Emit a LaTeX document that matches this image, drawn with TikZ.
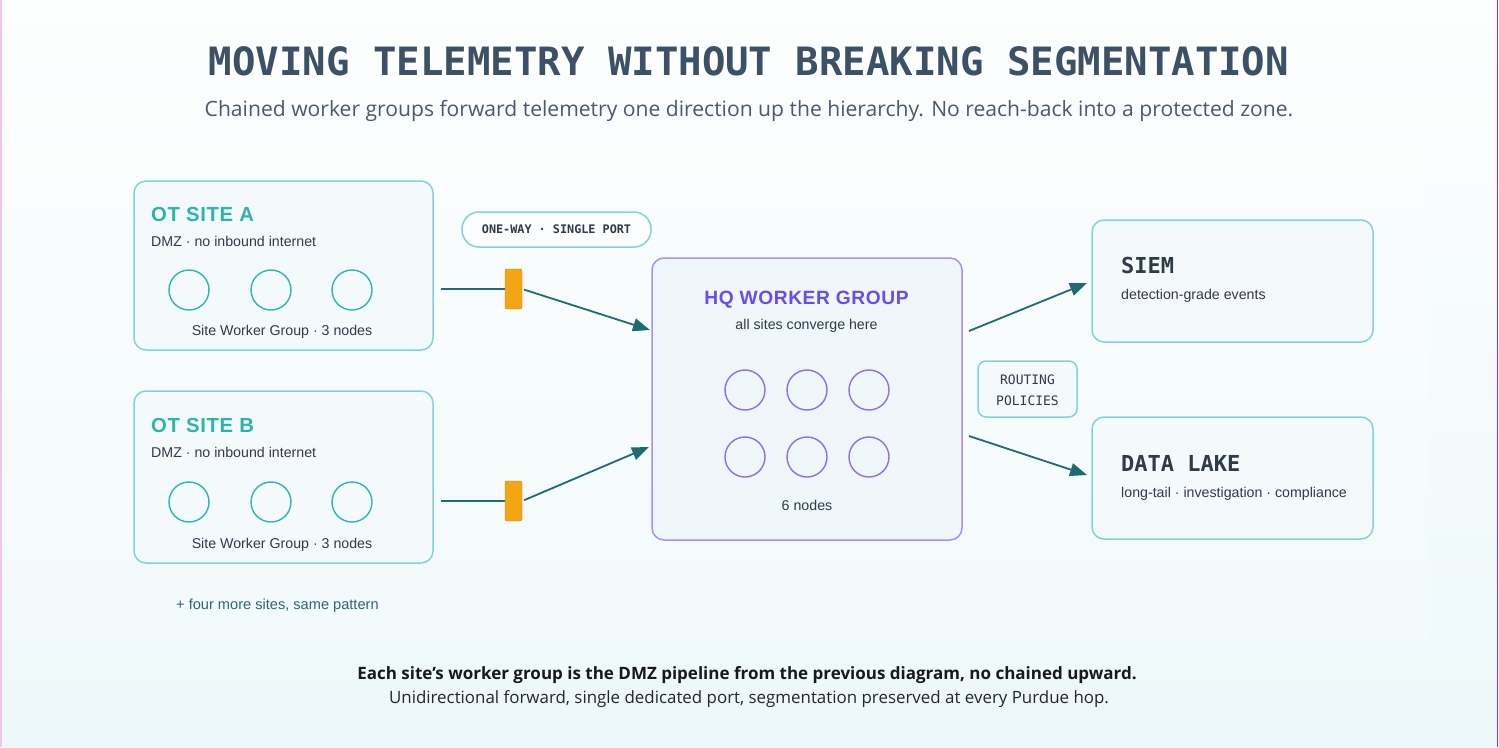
\documentclass[tikz,border=0pt]{standalone}
\usepackage{fontspec}
\setmainfont{Liberation Sans}
\newfontfamily\monof{DejaVu Sans Mono}
\newfontfamily\opensans{Open Sans}
\newfontfamily\spacedsans[LetterSpace=3]{Liberation Sans}
\usetikzlibrary{arrows.meta}
\definecolor{bgtop}{HTML}{FDFEFE}
\definecolor{bgbot}{HTML}{EDF8FA}
\definecolor{boxfill}{HTML}{F4FAFC}
\definecolor{hqfill}{HTML}{EFF7FB}
\definecolor{tealline}{HTML}{80D4D8}
\definecolor{tealtitle}{HTML}{2CB3AD}
\definecolor{tealnode}{HTML}{2DB6B0}
\definecolor{purpline}{HTML}{A88EF8}
\definecolor{purptitle}{HTML}{6A4BF2}
\definecolor{purpnode}{HTML}{8C6EF0}
\definecolor{arrowc}{HTML}{1E6C73}
\definecolor{gatec}{HTML}{F4A514}
\definecolor{textc}{HTML}{2F3B47}
\definecolor{titlec}{HTML}{3C5066}
\definecolor{subc}{HTML}{4A5A6B}
\definecolor{morec}{HTML}{2C6870}
\definecolor{edgepink}{HTML}{F1C6EA}
\definecolor{edgemag}{HTML}{D02290}
\tikzset{
  box/.style={draw=tealline, line width=1.5pt, fill=boxfill, rounded corners=12pt, inner sep=0pt},
  hqbox/.style={draw=purpline, line width=1.5pt, fill=hqfill, rounded corners=12pt, inner sep=0pt},
  sitenode/.style={circle, draw=tealnode, line width=1.4pt, minimum size=40pt, inner sep=0pt},
  hqnode/.style={circle, draw=purpnode, line width=1.4pt, minimum size=40pt, inner sep=0pt},
  gate/.style={rectangle, fill=gatec, draw=gatec!80!black, line width=0.4pt, rounded corners=2pt, minimum width=17pt, minimum height=40pt, inner sep=0pt},
  feed/.style={draw=arrowc, line width=1.6pt},
  flow/.style={draw=arrowc, line width=1.8pt, -{Triangle[length=17pt,width=13pt]}},
  sitetitle/.style={anchor=base west, inner sep=0pt, text=tealtitle, font=\spacedsans\bfseries\fontsize{20.3}{24}\selectfont},
  small/.style={inner sep=0pt, text=textc, font=\fontsize{14.2}{17}\selectfont},
  mono/.style={inner sep=0pt, text=textc, font=\monof\fontsize{13}{16}\selectfont},
}
\begin{document}
\begin{tikzpicture}[x=1pt,y=-1pt]
\useasboundingbox (0,0) rectangle (1499,747);
\shade[top color=bgtop, bottom color=bgbot] (0,0) rectangle (1499,747);
\fill[white, opacity=0.25] (0,155) rectangle (1430,640);
\draw[edgepink, line width=1.5pt] (0.75,0) -- (0.75,747);
\draw[edgemag, line width=1.5pt] (1497.5,0) -- (1497.5,747);

% title
\node[anchor=base, inner sep=0pt, text=titlec, font=\monof\bfseries\fontsize{39}{44}\selectfont] (title) at (749,75) {MOVING TELEMETRY WITHOUT BREAKING SEGMENTATION};
\node[anchor=base, inner sep=0pt, text=subc, font=\opensans\fontsize{21.1}{26}\selectfont] (subtitle) at (749,116) {Chained worker groups forward telemetry one direction up the hierarchy. No reach-back into a protected zone.};

% site A
\node[box, minimum width=299pt, minimum height=169pt] (siteA) at (283.5,265.5) {};
\node[sitetitle] (siteAt) at (151,221) {OT SITE A};
\node[small, anchor=base west] (siteAd) at (151,246) {DMZ · no inbound internet};
\node[sitenode] (a1) at (189,290) {};
\node[sitenode] (a2) at (271,290) {};
\node[sitenode] (a3) at (352,290) {};
\node[small, anchor=base] (siteAl) at (282,335) {Site Worker Group · 3 nodes};

% site B
\node[box, minimum width=299pt, minimum height=172pt] (siteB) at (283.5,477) {};
\node[sitetitle] (siteBt) at (151,432) {OT SITE B};
\node[small, anchor=base west] (siteBd) at (151,457) {DMZ · no inbound internet};
\node[sitenode] (b1) at (189,502) {};
\node[sitenode] (b2) at (271,502) {};
\node[sitenode] (b3) at (352,502) {};
\node[small, anchor=base] (siteBl) at (282,548) {Site Worker Group · 3 nodes};

\node[small, anchor=base west, text=morec, font=\fontsize{14.6}{17}\selectfont] (more) at (176,609) {+ four more sites, same pattern};

% pill
\node[draw=tealline, line width=1.5pt, fill=white, fill opacity=0.6, text opacity=1, rounded corners=17pt, minimum width=189pt, minimum height=35pt, inner sep=0pt, text=textc, font=\monof\bfseries\fontsize{11.8}{14}\selectfont] (pill) at (556.5,229.5) {ONE-WAY · SINGLE PORT};

% HQ
\node[hqbox, minimum width=310pt, minimum height=282pt] (hq) at (807,399) {};
\node[anchor=base, inner sep=0pt, text=purptitle, font=\spacedsans\bfseries\fontsize{19.2}{24}\selectfont] (hqt) at (806.5,304) {HQ WORKER GROUP};
\node[small, anchor=base] (hqd) at (806.5,329) {all sites converge here};
\node[hqnode] (h1) at (745,390) {};
\node[hqnode] (h2) at (807,390) {};
\node[hqnode] (h3) at (869,390) {};
\node[hqnode] (h4) at (745,457) {};
\node[hqnode] (h5) at (807,457) {};
\node[hqnode] (h6) at (869,457) {};
\node[small, anchor=base] (hql) at (807,510) {6 nodes};

% gates
\node[gate] (gA) at (513.5,289) {};
\node[gate] (gB) at (513.5,501) {};
\coordinate (inA) at (650,330);
\coordinate (inB) at (649,447);
\draw[feed, shorten <=7pt] (siteA.east |- gA) -- (gA.west);
\draw[feed, shorten <=7pt] (siteB.east |- gB) -- (gB.west);
\draw[flow, shorten <=2pt] (gA.east) -- (inA);
\draw[flow, shorten <=2pt] (gB.east) -- (inB);

% routing
\node[draw=tealline, line width=1.5pt, fill=boxfill, rounded corners=8pt, minimum width=99pt, minimum height=56pt, inner sep=0pt] (route) at (1027.5,389) {};
\node[mono, anchor=base] (route1) at (1027.5,384) {ROUTING};
\node[mono, anchor=base] (route2) at (1027.5,405) {POLICIES};

% outputs
\node[box, minimum width=281pt, minimum height=122pt] (siem) at (1232.5,281) {};
\node[anchor=base west, inner sep=0pt, text=textc, font=\monof\bfseries\fontsize{22}{26}\selectfont] (siemt) at (1121,273) {SIEM};
\node[small, anchor=base west] (siemd) at (1121,299) {detection-grade events};
\node[box, minimum width=281pt, minimum height=122pt] (lake) at (1232.5,478) {};
\node[anchor=base west, inner sep=0pt, text=textc, font=\monof\bfseries\fontsize{22}{26}\selectfont] (laket) at (1121,471) {DATA LAKE};
\node[small, anchor=base west] (laked) at (1121,497) {long-tail · investigation · compliance};

\coordinate (outA) at (969,331);
\coordinate (outB) at (969,436);
\coordinate (siemin) at (1087,283);
\coordinate (lakein) at (1087,475);
\draw[flow] (outA) -- (siemin);
\draw[flow] (outB) -- (lakein);

% footer
\node[anchor=base, inner sep=0pt, text=black!90, font=\opensans\bfseries\fontsize{17}{20}\selectfont] (foot1) at (747,679) {Each site’s worker group is the DMZ pipeline from the previous diagram, no chained upward.};
\node[anchor=base, inner sep=0pt, text=black!85, font=\opensans\fontsize{16.9}{20}\selectfont] (foot2) at (749,703) {Unidirectional forward, single dedicated port, segmentation preserved at every Purdue hop.};
\end{tikzpicture}
\end{document}
